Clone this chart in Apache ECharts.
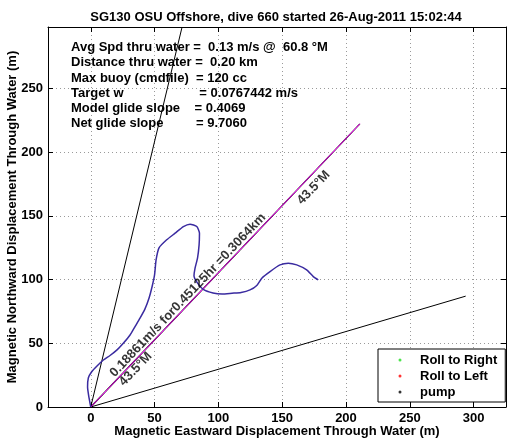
<!DOCTYPE html>
<html><head><meta charset="utf-8">
<script src="https://cdn.jsdelivr.net/npm/echarts@6/dist/echarts.min.js"></script>
<style>html,body{margin:0;padding:0;background:#fff}#c{width:514px;height:442px}</style>
</head><body><div id="c"></div>
<script>
// ---------- data ----------
const titleText = 'SG130 OSU Offshore, dive 660 started 26-Aug-2011 15:02:44';
const xAxisName = 'Magnetic Eastward Displacement Through Water (m)';
const yAxisName = 'Magnetic Northward Displacement Through Water (m)';
const xTicks = [0, 50, 100, 150, 200, 250, 300];
const yTicks = [0, 50, 100, 150, 200, 250];
const xRange = [-33.5, 325.4];
const yRange = [0, 298.2];

const trackEast  = [0, -1.7, -2.5, -1.9, 0.6, 4.9, 9.9, 15.1, 20.6, 25.5, 30.8, 34.7, 38.6, 42.5, 45.7, 48.0, 50.0, 51.2, 53.5, 59.5, 66.1, 72.6, 77.8, 83.1, 85.2, 84.9, 83.7, 81.7, 80.9, 83.3, 88.2, 95.8, 102.9, 110.7, 117.8, 124.8, 130.1, 134.2, 140.5, 148.3, 154.8, 161.4, 169.2, 174.4, 178.3];
const trackNorth = [0, 9.4, 15.7, 22.8, 27.5, 32.2, 36.9, 40.4, 44.8, 50.0, 56.5, 63.1, 69.7, 77.0, 85.6, 94.2, 103.7, 115.4, 124.9, 131.2, 136.4, 141.6, 143.5, 141.6, 136.4, 127.2, 117.0, 108.8, 102.9, 97.8, 92.3, 89.5, 88.7, 89.3, 89.9, 91.9, 95.4, 101.3, 106.3, 111.5, 112.9, 111.5, 107.6, 102.3, 99.7];

const headingEast  = [0, 210.9];
const headingNorth = [0, 222.2];
const wedgeLeftEast   = [0, 71.5];
const wedgeLeftNorth  = [0, 297.9];
const wedgeRightEast  = [0, 293.8];
const wedgeRightNorth = [0, 87.0];

const infoLines = [
  'Avg Spd thru water =  0.13 m/s @  60.8 \u00B0M',
  'Distance thru water =  0.20 km',
  'Max buoy (cmdfile)  = 120 cc',
  'Target w                     = 0.0767442 m/s',
  'Model glide slope    = 0.4069',
  'Net glide slope         = 9.7060'
];

const legendNames = ['Roll to Right', 'Roll to Left', 'pump'];

const annotationTexts = ['0.18861m/s for0.45125hr =0.3064km', '43.5\u00B0M', '43.5\u00B0M'];
const annotationEast  = [20.4, 20.4, 159.9];
const annotationNorth = [21.5, 21.5, 163.9];

// ---------- layout / style ----------
const FONT = '"Liberation Sans", Arial, Helvetica, sans-serif';
const FS = 13;
const infoY0 = 47.7, infoDy = 15.2;

function pairs(xs, ys) { return xs.map((x, i) => [x, ys[i]]); }

const graphics = infoLines.map((t, i) => ({
  type: 'text', x: 71, y: infoY0 + infoDy * i, silent: true, z: 100,
  style: { text: t, fill: '#000', font: 'bold ' + FS + 'px ' + FONT,
           align: 'left', verticalAlign: 'middle', textAlign: 'left', textVerticalAlign: 'middle' }
}));

const axisCommon = {
  type: 'value',
  axisLine: { show: true, onZero: false, lineStyle: { color: '#000', width: 1 } },
  axisTick: { show: true, inside: true, length: 5, lineStyle: { color: '#000' } },
};
const labelFont = { fontSize: FS, fontWeight: 'bold', fontFamily: FONT, color: '#000' };

const chart = echarts.init(document.getElementById('c'), null, { renderer: 'canvas' });
chart.setOption({
  animation: false,
  backgroundColor: '#fff',
  title: {
    text: titleText, left: 271, top: 6, textAlign: 'center',
    textStyle: labelFont
  },
  grid: { left: 48, right: 8, top: 27, bottom: 35, containLabel: false, outerBoundsMode: 'none' },
  legend: {
    data: legendNames, orient: 'vertical', left: 378, top: 349,
    padding: [3, 8, 2, 20.5], itemGap: 0, itemWidth: 30, itemHeight: 3,
    icon: 'circle', backgroundColor: '#fff', borderColor: '#000', borderWidth: 1,
    borderRadius: 0, selectedMode: false, z: 50,
    textStyle: Object.assign({ lineHeight: 16 }, labelFont)
  },
  xAxis: [
    Object.assign({}, axisCommon, {
      min: xRange[0], max: xRange[1], position: 'bottom',
      name: xAxisName, nameLocation: 'middle', nameGap: 18, nameMoveOverlap: false,
      nameTextStyle: labelFont,
      axisTick: Object.assign({}, axisCommon.axisTick, { customValues: xTicks }),
      axisLabel: Object.assign({ customValues: xTicks, margin: 5 }, labelFont),
      splitLine: { show: true, lineStyle: { color: '#9a9a9a', type: [1, 3], width: 1 } }
    }),
    Object.assign({}, axisCommon, {
      min: xRange[0], max: xRange[1], position: 'top',
      axisTick: Object.assign({}, axisCommon.axisTick, { customValues: xTicks }),
      axisLabel: { show: false, customValues: xTicks }, splitLine: { show: false }
    })
  ],
  yAxis: [
    Object.assign({}, axisCommon, {
      min: yRange[0], max: yRange[1], position: 'left',
      name: yAxisName, nameLocation: 'middle', nameGap: 29, nameRotate: 90, nameMoveOverlap: false,
      nameTextStyle: labelFont,
      axisTick: Object.assign({}, axisCommon.axisTick, { customValues: yTicks }),
      axisLabel: Object.assign({ customValues: yTicks, margin: 5 }, labelFont),
      splitLine: { show: true, lineStyle: { color: '#9a9a9a', type: [1, 3], width: 1 } }
    }),
    Object.assign({}, axisCommon, {
      min: yRange[0], max: yRange[1], position: 'right',
      axisTick: Object.assign({}, axisCommon.axisTick, { customValues: yTicks }),
      axisLabel: { show: false, customValues: yTicks }, splitLine: { show: false }
    })
  ],
  graphic: graphics,
  series: [
    { name: 'wedgeLeft', type: 'line', data: pairs(wedgeLeftEast, wedgeLeftNorth), showSymbol: false, silent: true,
      lineStyle: { color: '#000', width: 1 }, z: 3 },
    { name: 'wedgeRight', type: 'line', data: pairs(wedgeRightEast, wedgeRightNorth), showSymbol: false, silent: true,
      lineStyle: { color: '#000', width: 1 }, z: 3 },
    { name: 'headingBlack', type: 'line', data: pairs(headingEast, headingNorth), showSymbol: false, silent: true,
      lineStyle: { color: '#000', width: 1.2 }, z: 3 },
    { name: 'headingMagenta', type: 'line', data: pairs(headingEast, headingNorth), showSymbol: false, silent: true,
      lineStyle: { color: '#ff00ff', width: 1 }, z: 4 },
    { name: 'track', type: 'line', data: pairs(trackEast, trackNorth), showSymbol: false, silent: true, smooth: 0.2,
      lineStyle: { color: '#3a2ba0', width: 1.5 }, z: 5 },
    { name: 'annotations', type: 'scatter', symbolSize: 0, silent: true, z: 10,
      data: annotationTexts.map((t, i) => ({
        value: [annotationEast[i], annotationNorth[i]],
        label: { formatter: t, verticalAlign: i === 0 ? 'bottom' : 'top' }
      })),
      label: Object.assign({ show: true, position: 'inside', rotate: 46.5, align: 'left', distance: 0 }, labelFont) },
    { name: legendNames[0], type: 'scatter', data: [], itemStyle: { color: '#22dd22' } },
    { name: legendNames[1], type: 'scatter', data: [], itemStyle: { color: '#ff0000' } },
    { name: legendNames[2], type: 'scatter', data: [], itemStyle: { color: '#000000' } }
  ]
});
</script>
</body></html>
